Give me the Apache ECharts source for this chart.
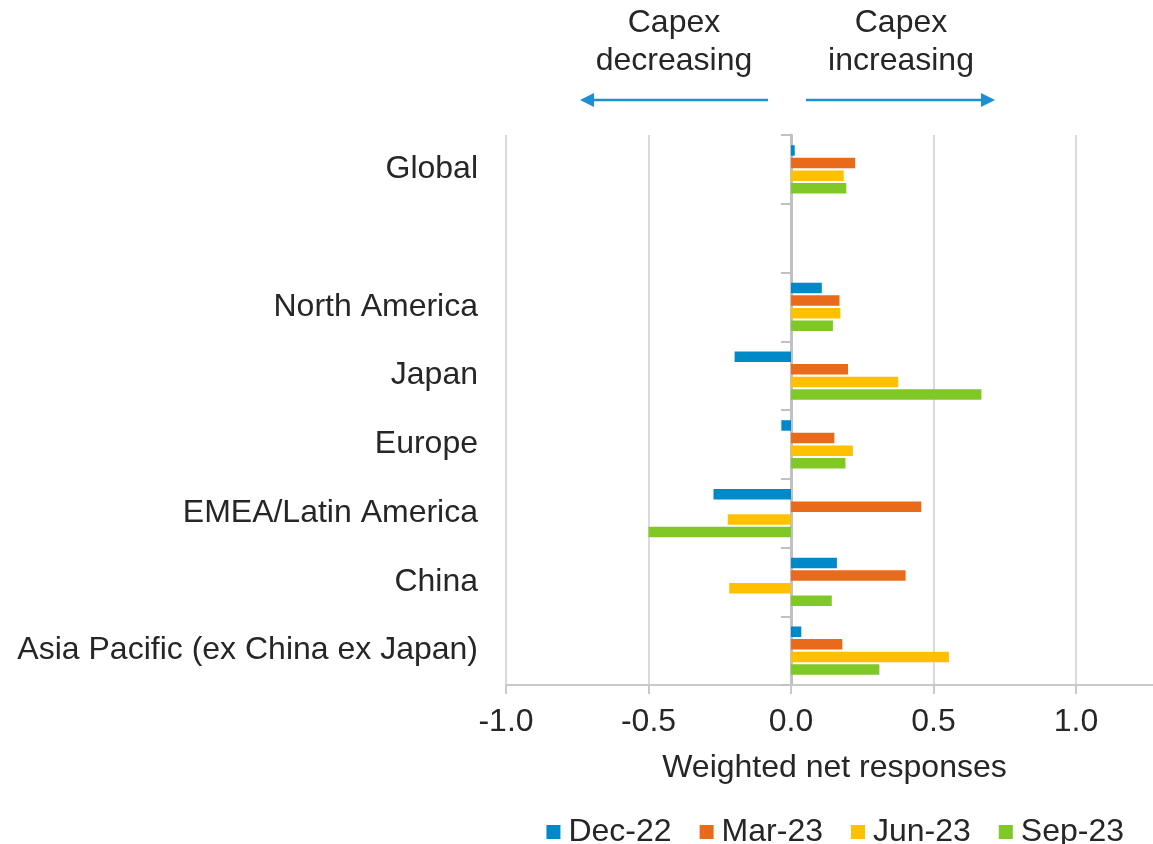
<!DOCTYPE html>
<html>
<head>
<meta charset="utf-8">
<script src="https://cdn.jsdelivr.net/npm/echarts@6/dist/echarts.min.js"></script>
<style>
  html, body { margin: 0; padding: 0; background: #ffffff; }
  #chart { width: 1153px; height: 844px; }
</style>
</head>
<body>
<div id="chart"></div>
<script>
// Regions shown top to bottom; the empty entry leaves a gap under Global.
const regions = ['Global', '', 'North America', 'Japan', 'Europe', 'EMEA/Latin America', 'China', 'Asia Pacific (ex China ex Japan)'];

// Weighted net responses by survey wave.
const dec22 = [0.013, null, 0.108, -0.198, -0.034, -0.272, 0.161, 0.036];
const mar23 = [0.225, null, 0.170, 0.200, 0.152, 0.457, 0.402, 0.180];
const jun23 = [0.185, null, 0.173, 0.376, 0.217, -0.222, -0.217, 0.554];
const sep23 = [0.194, null, 0.147, 0.668, 0.191, -0.500, 0.143, 0.310];

const waveNames = ['Dec-22', 'Mar-23', 'Jun-23', 'Sep-23'];
const waveValues = [dec22, mar23, jun23, sep23];
const waveColors = ['#0089C9', '#EA6A1B', '#FFC000', '#80C825'];

// Labelled ticks on the value axis
const xTicks = [-1, -0.5, 0, 0.5, 1];

const FONT = "'Liberation Sans', Arial, sans-serif";
const TEXT = '#262626';
const ARROW = '#1B8FCF';
const FS = 32;

const chart = echarts.init(document.getElementById('chart'), null, { renderer: 'canvas' });

const series = waveNames.map((name, i) => ({
  name: name,
  type: 'bar',
  data: waveValues[i],
  barWidth: 10.5,
  barGap: '20%',
  itemStyle: { color: waveColors[i] },
  emphasis: { disabled: true }
}));

// Direction arrows above the plot
function arrow(x1, x2, y) {
  const dir = x2 > x1 ? 1 : -1;
  const headLen = 14, headHalf = 7;
  return [
    {
      type: 'line',
      shape: { x1: x1, y1: y, x2: x2 - dir * headLen, y2: y },
      style: { stroke: ARROW, lineWidth: 2.5 }
    },
    {
      type: 'polygon',
      shape: { points: [[x2, y], [x2 - dir * headLen, y - headHalf], [x2 - dir * headLen, y + headHalf]] },
      style: { fill: ARROW }
    }
  ];
}

function caption(text, cx) {
  return {
    type: 'text',
    x: cx,
    y: 4,
    style: {
      text: text, align: 'center', verticalAlign: 'top',
      fontFamily: FONT, fontSize: FS, lineHeight: 38, fill: TEXT
    }
  };
}

chart.setOption({
  animation: false,
  textStyle: { fontFamily: FONT },
  grid: { left: 506, right: 0, top: 135, bottom: 159, containLabel: false, outerBoundsMode: 'none' },
  legend: {
    data: waveNames,
    right: 24,
    top: 811,
    icon: 'rect',
    itemWidth: 14,
    itemHeight: 14,
    itemGap: 28,
    textStyle: { fontFamily: FONT, fontSize: FS, color: TEXT, padding: [0, 0, 0, 3] }
  },
  xAxis: {
    type: 'value',
    min: -1,
    max: 1.27,
    interval: 0.5,
    name: 'Weighted net responses',
    nameLocation: 'middle',
    nameGap: 67,
    nameTextStyle: { fontFamily: FONT, fontSize: FS, color: TEXT, padding: [0, 0, 0, 10] },
    axisLine: { show: true, onZero: false, lineStyle: { color: '#C9C9C9', width: 2 } },
    axisTick: { show: true, length: 9, customValues: xTicks, lineStyle: { color: '#C9C9C9', width: 2 } },
    axisLabel: {
      fontFamily: FONT,
      fontSize: FS,
      color: TEXT,
      margin: 21,
      customValues: xTicks,
      formatter: v => v.toFixed(1)
    },
    splitLine: { show: true, lineStyle: { color: '#DADADA', width: 2 } }
  },
  yAxis: {
    type: 'category',
    data: regions,
    inverse: true,
    axisLine: { show: true, onZero: true, lineStyle: { color: '#BEC2C7', width: 3 } },
    axisTick: { show: true, length: 10, lineStyle: { color: '#BEC2C7', width: 2 } },
    axisLabel: { fontFamily: FONT, fontSize: FS, color: TEXT, margin: 28 },
    splitLine: { show: false }
  },
  series: series,
  graphic: [
    caption('Capex\ndecreasing', 674),
    caption('Capex\nincreasing', 901)
  ].concat(arrow(768, 580, 100), arrow(806, 995, 100))
});
</script>
</body>
</html>
